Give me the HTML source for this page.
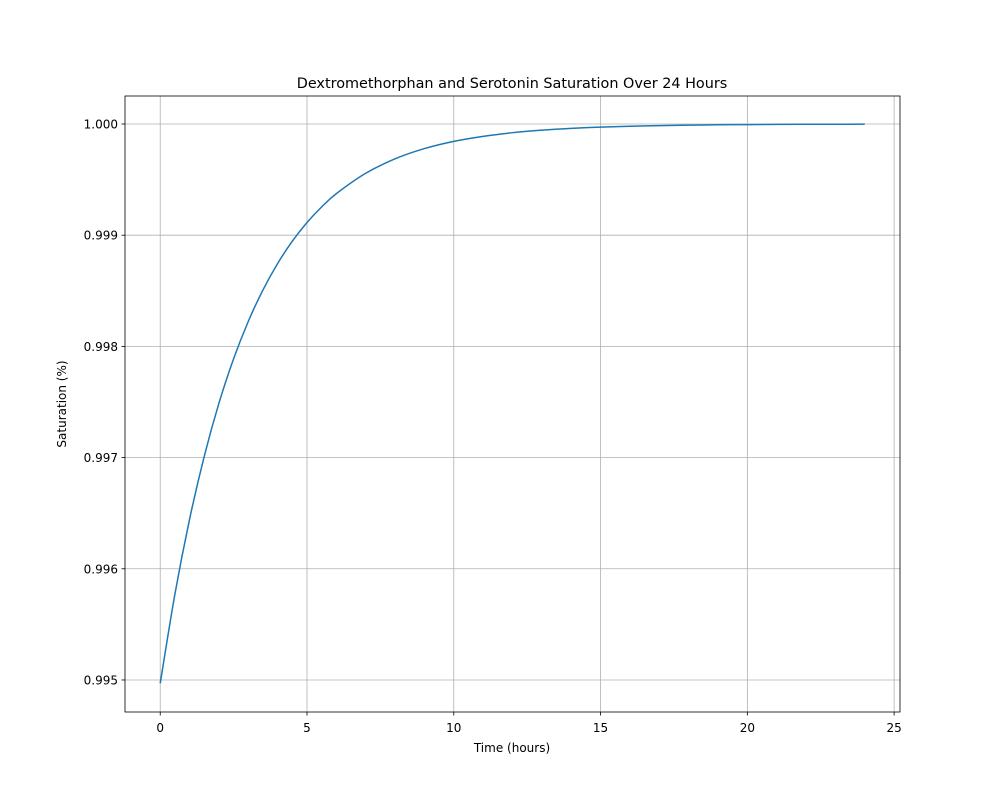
<!DOCTYPE html>
<html><head><meta charset="utf-8"><style>
body{margin:0;background:#fff}
svg text{font-family:"DejaVu Sans","Liberation Sans",sans-serif;fill:#000}
</style></head><body>
<svg id="chart" width="1000" height="800" xmlns="http://www.w3.org/2000/svg"></svg>
<script>
const times=[0,0.5,1,1.5,2,2.5,3,3.5,4,4.5,5,5.5,6,7,8,9,10,11,12,13,14,15,16,17,18,19,20,21,22,23,24];
const saturation=[0.99497,0.995772,0.996446,0.997012,0.997489,0.997889,0.998225,0.998508,0.998746,0.998946,0.999114,0.999255,0.999374,0.999557,0.999687,0.999779,0.999844,0.999889,0.999922,0.999945,0.999961,0.999972,0.99998,0.999986,0.99999,0.999993,0.999995,0.9999965,0.9999975,0.9999983,0.9999988];
const xTicks=[0,5,10,15,20,25];
const yTicks=[0.995,0.996,0.997,0.998,0.999,1.000];
const yTickLabels=["0.995","0.996","0.997","0.998","0.999","1.000"];
const L=125,R=900,T=96,B=712;
const xMin=-1.2,xMax=25.2,yMin=0.994712,yMax=1.000252;
const sx=v=>L+(v-xMin)/(xMax-xMin)*(R-L);
const sy=v=>B-(v-yMin)/(yMax-yMin)*(B-T);
const svg=document.getElementById('chart');
const NS='http://www.w3.org/2000/svg';
function mk(tag,at,txt){const e=document.createElementNS(NS,tag);for(const k in at)e.setAttribute(k,at[k]);if(txt!==undefined)e.textContent=txt;svg.appendChild(e);return e;}
xTicks.forEach((t,i)=>{
 const x=sx(t);
 if(x<R){const g=mk('line',{x1:x,x2:x,y1:T,y2:B,stroke:'#b0b0b0','stroke-width':0.8});
 
 }
 const tk=mk('line',{x1:x,x2:x,y1:B,y2:B+3.5,stroke:'#000','stroke-width':0.8});
 
 
 const lb=mk('text',{x:x,y:B+20,'text-anchor':'middle','font-size':12},String(t));
 
 
});
yTicks.forEach((v,i)=>{
 const y=sy(v);
 const g=mk('line',{x1:L,x2:R,y1:y,y2:y,stroke:'#b0b0b0','stroke-width':0.8});
 
 
 const tk=mk('line',{x1:L-3.5,x2:L,y1:y,y2:y,stroke:'#000','stroke-width':0.8});
 
 
 const lb=mk('text',{x:L-7,y:y+4.5,'text-anchor':'end','font-size':12},yTickLabels[i]);
 
 
});
const P=times.map((t,i)=>[sx(t),sy(saturation[i])]);
let d='M'+P[0][0].toFixed(2)+','+P[0][1].toFixed(2);
for(let i=0;i<P.length-1;i++){
 const p0=P[Math.max(i-1,0)],p1=P[i],p2=P[i+1],p3=P[Math.min(i+2,P.length-1)];
 const c1=[p1[0]+(p2[0]-p0[0])/6,p1[1]+(p2[1]-p0[1])/6];
 const c2=[p2[0]-(p3[0]-p1[0])/6,p2[1]-(p3[1]-p1[1])/6];
 d+=' C'+c1[0].toFixed(2)+','+c1[1].toFixed(2)+' '+c2[0].toFixed(2)+','+c2[1].toFixed(2)+' '+p2[0].toFixed(2)+','+p2[1].toFixed(2);
}
const line=mk('path',{d:d,fill:'none',stroke:'#1f77b4','stroke-width':1.5,'stroke-linejoin':'round'});


const fr=mk('rect',{x:L,y:T,width:R-L,height:B-T,fill:'none',stroke:'#000','stroke-width':0.8});


const ti=mk('text',{x:512,y:88,'text-anchor':'middle','font-size':14.4},'Dextromethorphan and Serotonin Saturation Over 24 Hours');


const xl=mk('text',{x:512,y:752,'text-anchor':'middle','font-size':12},'Time (hours)');


const yl=mk('text',{x:66,y:404,'text-anchor':'middle','font-size':12,transform:'rotate(-90 66 404)'},'Saturation (%)');


</script>
</body></html>
